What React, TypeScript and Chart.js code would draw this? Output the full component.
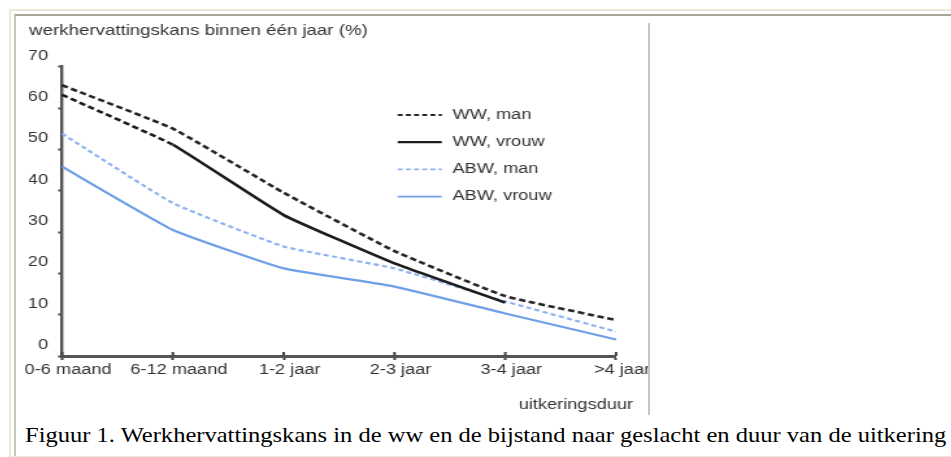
import React, { useEffect, useRef } from "react";
import { Chart, registerables } from "chart.js";

Chart.register(...registerables);

// ---- data ----
const categories = ["0-6 maand", "6-12 maand", "1-2 jaar", "2-3 jaar", "3-4 jaar", ">4 jaar"];
const wwMan = [65.5, 55.0, 39.5, 25.4, 14.5, 8.7];
const wwVrouw = [63.2, 51.1, 34.1, 22.4, 12.9, null];
const abwMan = [53.8, 37.0, 26.5, 21.2, 13.2, 5.9];
const abwVrouw = [45.8, 30.5, 21.2, 16.8, 10.3, 4.0];
const seriesNames = ["WW, man", "WW, vrouw", "ABW, man", "ABW, vrouw"];
const yMin = 0;
const yMax = 70;
const yStep = 10;
const yTitle = "werkhervattingskans binnen één jaar (%)";
const xTitle = "uitkeringsduur";
const caption =
  "Figuur 1. Werkhervattingskans in de ww en de bijstand naar geslacht en duur van de uitkering";

const FONT = '"Liberation Sans", Arial, sans-serif';
const TEXT = "#333333";

const overlayPlugin = {
  id: "overlay",
  afterDraw(chart: any) {
    const ctx = chart.ctx;
    const ca = chart.chartArea;
    ctx.save();

    // tick marks crossing the x axis (upper part)
    const xs = chart.scales.x;
    ctx.strokeStyle = "#444444";
    ctx.lineWidth = 2;
    xs.ticks.forEach((_t: any, i: number) => {
      const px = xs.getPixelForTick(i);
      ctx.beginPath();
      ctx.moveTo(px, ca.bottom - 4);
      ctx.lineTo(px, ca.bottom);
      ctx.stroke();
    });

    ctx.font = `14px ${FONT}`;
    ctx.fillStyle = TEXT;
    ctx.textBaseline = "middle";
    ctx.textAlign = "right";
    ctx.fillText(xTitle, ca.right + 13, ca.bottom + 49);

    // legend
    const lx0 = 293.8;
    const lx1 = 327.7;
    const tx = 336;
    const ly0 = 99;
    const step = 27.2;
    chart.data.datasets.forEach((ds: any, i: number) => {
      const y = ly0 + i * step;
      ctx.beginPath();
      ctx.strokeStyle = ds.borderColor;
      ctx.lineWidth = ds.legendWidth;
      ctx.setLineDash(ds.legendDash || []);
      ctx.moveTo(lx0, y);
      ctx.lineTo(lx1, y);
      ctx.stroke();
      ctx.setLineDash([]);
      ctx.textAlign = "left";
      ctx.fillStyle = TEXT;
      ctx.fillText(ds.label, tx, y);
    });
    ctx.restore();
  },
};

export default function App() {
  const ref = useRef<HTMLCanvasElement | null>(null);

  useEffect(() => {
    if (!ref.current) return;
    const dashBlack = [5, 2.8];
    const dashBlue = [4, 2.6];
    const chart = new Chart(ref.current, {
      type: "line",
      data: {
        labels: categories,
        datasets: [
          {
            label: seriesNames[0],
            data: wwMan,
            borderColor: "#262626",
            borderWidth: 2.6,
            borderDash: dashBlack,
            legendDash: [3.8, 2.5],
            legendWidth: 1.8,
            pointRadius: 0,
            tension: 0.12,
            fill: false,
          } as any,
          {
            label: seriesNames[1],
            data: wwVrouw,
            borderColor: "#1c1c1c",
            borderWidth: 2.6,
            legendWidth: 2.2,
            pointRadius: 0,
            tension: 0.12,
            fill: false,
            segment: {
              borderDash: (c: any) => (c.p0DataIndex === 0 ? dashBlack : undefined),
            },
          } as any,
          {
            label: seriesNames[2],
            data: abwMan,
            borderColor: "#8fb2ee",
            borderWidth: 2.2,
            borderDash: dashBlue,
            legendDash: [3.8, 2.5],
            legendWidth: 1.8,
            pointRadius: 0,
            tension: 0.12,
            fill: false,
          } as any,
          {
            label: seriesNames[3],
            data: abwVrouw,
            borderColor: "#6f9fe6",
            borderWidth: 2.2,
            legendWidth: 1.8,
            pointRadius: 0,
            tension: 0.12,
            fill: false,
          } as any,
        ],
      },
      options: {
        animation: false,
        responsive: false,
        devicePixelRatio: 1,
        spanGaps: false,
        layout: { padding: { left: 10, right: 26.1, top: 0, bottom: 0 } },
        plugins: {
          legend: { display: false },
          tooltip: { enabled: false },
          title: {
            display: true,
            text: yTitle,
            align: "start",
            color: TEXT,
            font: { family: FONT, size: 14.4, weight: "normal" as any },
            padding: { top: 6.4, bottom: 27.0 },
          },
        },
        scales: {
          x: {
            type: "category",
            offset: false,
            afterFit: (s: any) => {
              s.height = 60;
            },
            border: { display: true, color: "#555555", width: 3 },
            grid: {
              display: true,
              drawOnChartArea: false,
              drawTicks: true,
              tickLength: 4,
              tickWidth: 2,
              tickColor: "#444444",
            },
            ticks: {
              color: TEXT,
              font: { family: FONT, size: 14 },
              padding: 2,
              labelOffset: 4.6,
              maxRotation: 0,
              minRotation: 0,
              autoSkip: false,
            },
          },
          y: {
            min: yMin,
            max: yMax,
            afterFit: (s: any) => {
              s.width = 25.4;
            },
            border: { display: true, color: "#555555", width: 2.4 },
            grid: {
              display: true,
              drawOnChartArea: false,
              drawTicks: true,
              tickLength: 3,
              tickWidth: 2,
              tickColor: "#444444",
            },
            ticks: {
              stepSize: yStep,
              color: TEXT,
              font: { family: FONT, size: 14 },
              padding: 7.8,
              labelOffset: -11,
            },
          },
        },
      },
      plugins: [overlayPlugin],
    });
    return () => chart.destroy();
  }, []);

  return (
    <div style={{ position: "absolute", left: 0, top: 0, width: 951, height: 457, overflow: "hidden", background: "#ffffff" }}>
      <div
        style={{
          position: "absolute",
          left: 9,
          top: 9,
          width: 980,
          height: 445,
          borderTop: "2px solid #ece8da",
          borderLeft: "2px solid #ece8da",
          borderBottom: "2px solid #ece8da",
        }}
      />
      <div
        style={{
          position: "absolute",
          left: 14,
          top: 14,
          width: 980,
          height: 440,
          borderTop: "2px solid #aaa696",
          borderLeft: "2px solid #c9c6bb",
        }}
      />
      <canvas
        ref={ref}
        width={488}
        height={400}
        style={{ position: "absolute", left: 16, top: 16, width: 634, height: 400 }}
      />
      <div style={{ position: "absolute", left: 648, top: 23, width: 2, height: 392, background: "#c6c6c6" }} />
      <div
        style={{
          position: "absolute",
          left: 25,
          top: 425,
          whiteSpace: "nowrap",
          fontFamily: '"Liberation Serif", "Times New Roman", serif',
          fontSize: 21,
          lineHeight: "21px",
          color: "#000000",
          transform: "scaleX(1.168)",
          transformOrigin: "0 0",
        }}
      >
        {caption}
      </div>
    </div>
  );
}
